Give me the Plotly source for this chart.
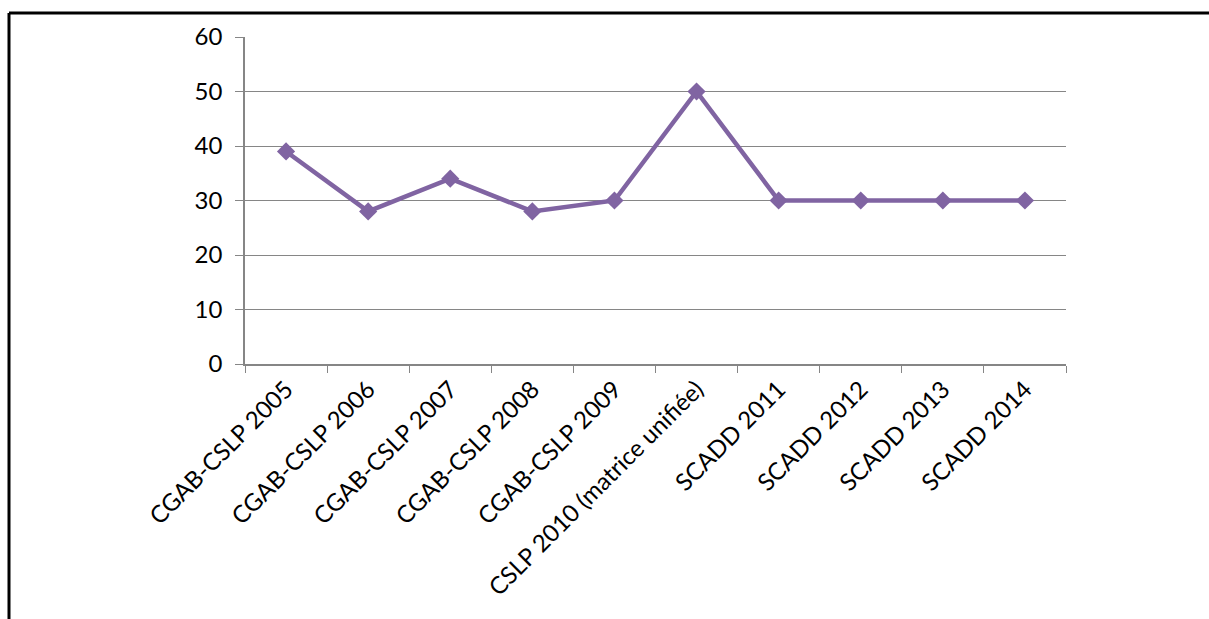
import plotly.graph_objects as go

categories = [
    "CGAB-CSLP 2005", "CGAB-CSLP 2006", "CGAB-CSLP 2007", "CGAB-CSLP 2008",
    "CGAB-CSLP 2009", "CSLP 2010 (matrice unifiée)", "SCADD 2011",
    "SCADD 2012", "SCADD 2013", "SCADD 2014",
]
values = [39, 28, 34, 28, 30, 50, 30, 30, 30, 30]
y_ticks = [0, 10, 20, 30, 40, 50, 60]

W, H = 1209, 619
L, R, T, B = 245, 143, 37, 255
pw, ph = W - L - R, H - T - B

font = dict(family="Lato, Open Sans, sans-serif", size=24, color="#000000")
grey = "#868686"

fig = go.Figure()
fig.add_trace(go.Scatter(
    x=categories, y=values, mode="lines+markers",
    line=dict(color="#8064A2", width=4.5),
    marker=dict(symbol="diamond", size=14, color="#8064A2"),
    showlegend=False,
))

# frame lines on the top and left of the page
def px_x(p):
    return (p - L) / pw

def px_y(p):
    return (H - B - p) / ph

fig.add_shape(type="line", xref="paper", yref="paper",
              x0=px_x(9), x1=px_x(1209), y0=px_y(13), y1=px_y(13),
              line=dict(color="black", width=3))
fig.add_shape(type="line", xref="paper", yref="paper",
              x0=px_x(9), x1=px_x(9), y0=px_y(13), y1=px_y(622),
              line=dict(color="black", width=3))

fig.update_layout(
    width=W, height=H,
    margin=dict(l=L, r=R, t=T, b=B),
    paper_bgcolor="white", plot_bgcolor="white",
    font=font,
    xaxis=dict(
        type="category", range=[-0.5, len(categories) - 0.5],
        tickangle=-45, tickson="boundaries", ticks="outside", ticklen=7,
        tickcolor=grey, showgrid=False, showline=True, linecolor=grey,
        linewidth=1.5, tickfont=font, fixedrange=True,
    ),
    yaxis=dict(
        range=[0, 60], tickvals=y_ticks, ticks="outside", ticklen=8,
        tickcolor=grey, showgrid=True, gridcolor=grey, gridwidth=1.2,
        showline=True, linecolor=grey, linewidth=1.5, zeroline=False,
        tickfont=font, ticklabelstandoff=8, fixedrange=True,
    ),
)

fig.write_html("out.html", config={"displayModeBar": False})
